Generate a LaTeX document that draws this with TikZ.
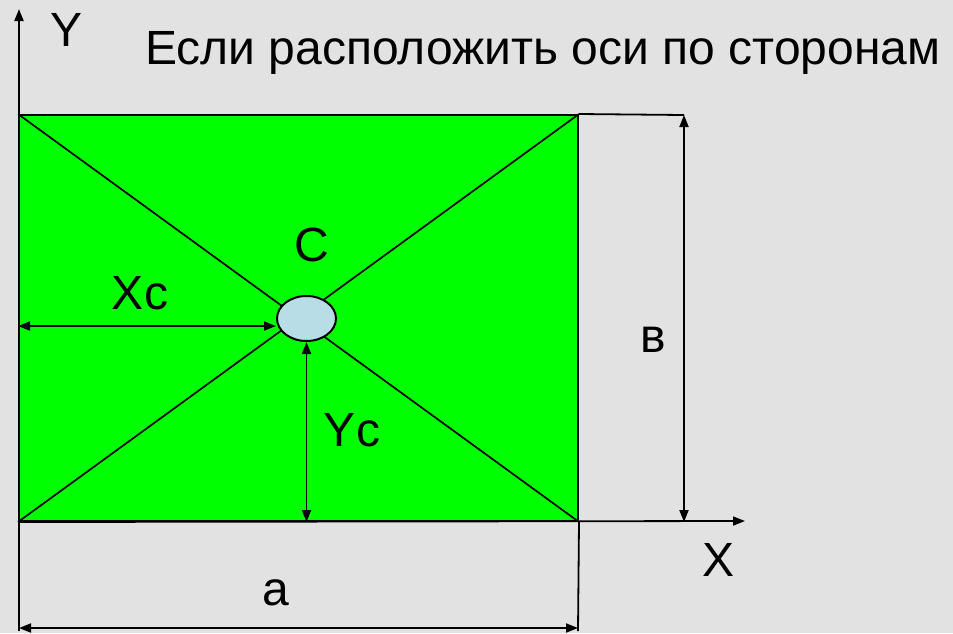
\documentclass[tikz,border=0pt]{standalone}
\usepackage{fontspec}
\setmainfont{Liberation Sans}
\usetikzlibrary{shapes.geometric,arrows.meta,positioning,calc}
\definecolor{paper}{RGB}{226,226,226}
\definecolor{platefill}{RGB}{0,255,0}
\definecolor{centerfill}{RGB}{185,221,230}
\tikzset{
  dim/.style={line width=1.8pt, {Triangle[length=12pt,width=9pt]}-{Triangle[length=12pt,width=9pt]}},
  axis/.style={line width=1.8pt, -{Triangle[length=12pt,width=9pt]}},
  lbl/.style={font=\fontsize{48}{52}\selectfont, inner sep=0pt},
}

\begin{document}
\begin{tikzpicture}[x=1pt,y=-1pt]
    \fill[paper] (0,0) rectangle (953,633);
    \useasboundingbox (0,0) rectangle (953,633);
    \node[draw, line width=2pt, fill=platefill, minimum width=559pt, minimum height=406pt, inner sep=0pt] (plate) at (298.5,318) {};
    \draw[line width=1.7pt] (plate.north west) -- (plate.south east);
    \draw[line width=1.7pt] (plate.north east) -- (plate.south west);
    \node[ellipse, draw, line width=2pt, fill=centerfill, minimum width=59pt, minimum height=45pt, inner sep=0pt] (c) at (306.5,318.5) {};
    \coordinate (ytip) at (19,9);
    \coordinate (ybot) at (19,631);
    \coordinate (xtip) at (745,521);
    \coordinate (abot) at (578,631);
    \coordinate (aleft) at (19,628);
    \coordinate (aright) at (578,628);
    \coordinate (btop) at (684,115);
    \draw[axis] (ybot) -- (ytip);
    \draw[axis] (plate.south west) -- (xtip);
    \draw[line width=1.8pt] (plate.south east) -- (abot);
    \draw[dim] (aleft) -- (aright);
    \draw[line width=1.8pt] (plate.north east) -- (btop);
    \draw[dim] (btop) -- (btop |- plate.south);
    \draw[dim] (plate.west |- 0,326) -- (c.west |- 0,326);
    \draw[dim] (c.south) -- (c.south |- plate.south);
    \node[lbl] (ylbl) at (67,30) {Y};
    \node[lbl, anchor=base west] (title) at (145,64) {Если расположить оси по сторонам};
    \node[lbl] (clbl) at (312,245) {C};
    \node[lbl] (xclbl) at (140,293) {Xc};
    \node[lbl] (blbl) at (653,340) {в};
    \node[lbl] (yclbl) at (352,430) {Yc};
    \node[lbl] (xlbl) at (718,560) {X};
    \node[lbl] (albl) at (276,593) {a};
\end{tikzpicture}
\end{document}
